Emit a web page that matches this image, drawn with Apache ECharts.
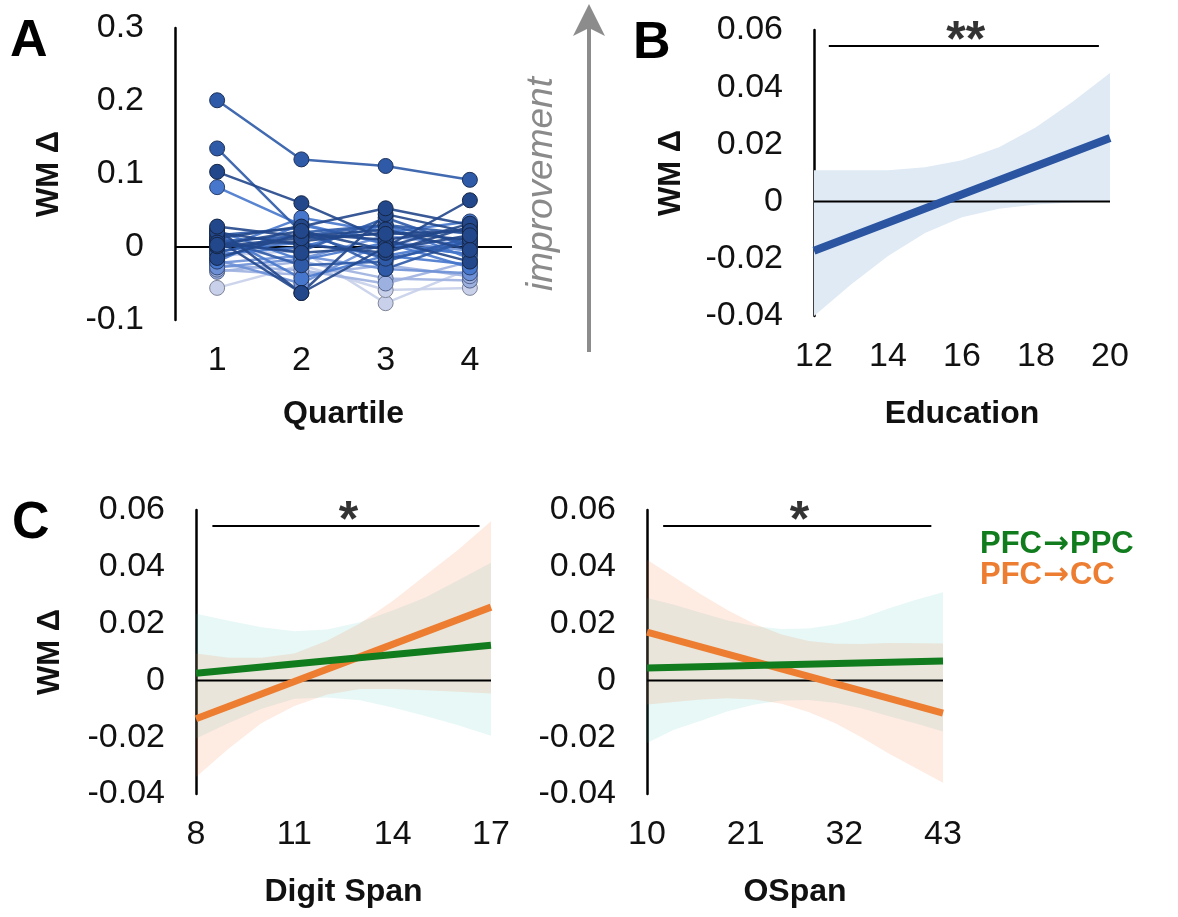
<!DOCTYPE html>
<html><head><meta charset="utf-8">
<script src="https://cdn.jsdelivr.net/npm/echarts@6/dist/echarts.min.js"></script>
<style>html,body{margin:0;padding:0;background:#fff}#c{width:1178px;height:917px}</style>
</head><body><div id="c"></div>
<script>
// ---------- Panel A: WM change per quartile, one line per subject ----------
const quartileX = [1, 2, 3, 4];
const quartileLabels = ['1', '2', '3', '4'];
const subjectValues = [
  [0.201, 0.120, 0.111, 0.092],
  [0.135, 0.020, 0.030, 0.005],
  [0.103, 0.060, 0.010, 0.025],
  [0.082, 0.030, 0.005, -0.010],
  [0.025, -0.063, 0.045, 0.020],
  [0.010, -0.063, 0.000, 0.064],
  [0.012, 0.028, 0.053, 0.030],
  [0.018, -0.043, -0.012, 0.008],
  [-0.012, -0.005, -0.077, -0.030],
  [-0.056, -0.025, -0.059, -0.056],
  [-0.034, -0.020, -0.043, -0.046],
  [-0.022, -0.012, -0.030, -0.036],
  [0.008, 0.015, 0.030, 0.018],
  [0.000, 0.008, 0.020, 0.010],
  [0.020, 0.003, -0.008, 0.028],
  [-0.015, 0.018, 0.010, -0.020],
  [0.004, -0.006, 0.040, 0.000],
  [-0.020, 0.032, 0.004, -0.010],
  [0.012, -0.025, -0.020, 0.014],
  [-0.005, 0.006, -0.012, -0.024],
  [0.028, 0.014, 0.024, -0.004],
  [-0.028, -0.016, 0.015, 0.002],
  [0.006, -0.008, 0.000, 0.032],
  [-0.010, 0.000, 0.030, -0.016],
  [-0.031, -0.038, -0.025, -0.040],
  [0.016, 0.026, -0.030, 0.010],
  [-0.018, -0.050, 0.008, -0.005],
  [0.001, 0.012, 0.018, 0.022],
  [-0.008, 0.018, -0.016, 0.006],
  [0.022, -0.018, 0.006, -0.028],
  [-0.025, -0.032, -0.050, -0.020],
  [0.003, 0.022, -0.004, 0.016],
  [-0.004, 0.040, 0.020, 0.035]
];
const subjectShade = [4,4,5,3,5,5,5,3,0,0,1,2,4,5,5,5,4,3,4,3,5,2,5,3,1,4,2,5,4,3,1,5,3];

// ---------- Panel B: Education ----------
const eduX = [12, 13, 14, 15, 16, 17, 18, 19, 20];
const eduUpper = [0.011, 0.011, 0.011, 0.012, 0.0145, 0.019, 0.026, 0.035, 0.045];
const eduLower = [-0.040, -0.029, -0.019, -0.011, -0.0055, -0.0025, -0.001, -0.0003, 0.0];
const eduFitX = [12, 20];
const eduFitY = [-0.0172, 0.0222];

// ---------- Panel C (left): Digit Span ----------
const dsX = [8, 9, 10, 11, 12, 13, 14, 15, 16, 17];
const dsPpcUpper = [0.0235, 0.021, 0.0187, 0.0173, 0.0179, 0.0205, 0.0246, 0.0292, 0.0353, 0.0414];
const dsPpcLower = [-0.0205, -0.015, -0.0100, -0.0065, -0.0060, -0.0070, -0.0095, -0.0125, -0.0158, -0.0195];
const dsCcUpper  = [0.0095, 0.0080, 0.0080, 0.0095, 0.0140, 0.0200, 0.0280, 0.0370, 0.0460, 0.0560];
const dsCcLower  = [-0.0340, -0.0240, -0.0150, -0.0090, -0.0050, -0.0030, -0.0030, -0.0035, -0.0040, -0.0046];
const dsFitX = [8, 17];
const dsPpcFit = [0.0025, 0.0124];
const dsCcFit = [-0.0135, 0.0258];

// ---------- Panel C (right): OSpan ----------
const osX = [10, 13, 16, 19, 22, 25, 28, 31, 34, 37, 40, 43];
const osPpcUpper = [0.029, 0.0266, 0.0238, 0.0211, 0.0191, 0.0181, 0.0183, 0.0197, 0.0221, 0.0254, 0.0284, 0.031];
const osPpcLower = [-0.022, -0.0174, -0.0142, -0.0109, -0.0085, -0.0071, -0.0069, -0.0079, -0.0099, -0.0126, -0.0152, -0.018];
const osCcUpper  = [0.0425, 0.0364, 0.0303, 0.0247, 0.0199, 0.0162, 0.0139, 0.0129, 0.0128, 0.0132, 0.0131, 0.013];
const osCcLower  = [-0.0085, -0.0076, -0.0067, -0.0063, -0.0067, -0.0082, -0.0111, -0.0151, -0.0202, -0.0258, -0.0309, -0.036];
const osFitX = [10, 43];
const osPpcFit = [0.0044, 0.0068];
const osCcFit = [0.0170, -0.0115];

// ---------- Significance annotations: [x0, x1, y, starX, text] ----------
const sigB = [12.4, 19.7, 0.0544, 16.1, '**'];
const sigDS = [8.5, 16.65, 0.0544, 12.65, '*'];
const sigOS = [11.8, 41.7, 0.0544, 27.0, '*'];

const seriesNames = ['PFC→PPC', 'PFC→CC'];

// ---------- styling ----------
const FONT = '"Liberation Sans", Arial, sans-serif';
const TXT = '#111';
const GREEN = '#107c1e';
const ORANGE = '#ed7d31';
const GREEN_BAND = 'rgba(40,190,170,0.11)';
const ORANGE_BAND = 'rgba(245,110,50,0.14)';
const BLUE_BAND = '#dfeaf5';
const shadeFill = ['#c8d0ea', '#9db1e0', '#6d90d6', '#4677cc', '#2e5aa8', '#22478b'];
const shadeBorder = ['#80869a', '#55648c', '#374d7c', '#283e6c', '#1d325c', '#152646'];

const TICK_FS = 34;

function yAxisCfg(grid, min, max, interval, name, gap) {
  return {
    type: 'value', gridIndex: grid, min: min, max: max, interval: interval,
    name: name, nameLocation: 'middle', nameGap: gap,
    nameTextStyle: { fontFamily: FONT, fontSize: 31, fontWeight: 'bold', color: TXT },
    axisLine: { show: true, onZero: false, lineStyle: { color: '#000', width: 2.5 } },
    axisTick: { show: false }, splitLine: { show: false },
    axisLabel: { fontFamily: FONT, fontSize: TICK_FS, color: TXT, margin: 31 }
  };
}
function xAxisCfg(grid, min, max, labels, name, gap) {
  return {
    type: 'value', gridIndex: grid, min: min, max: max,
    name: name, nameLocation: 'middle', nameGap: gap,
    nameTextStyle: { fontFamily: FONT, fontSize: 32, fontWeight: 'bold', color: TXT },
    axisLine: { show: false }, axisTick: { show: false }, splitLine: { show: false },
    axisLabel: { fontFamily: FONT, fontSize: TICK_FS, color: TXT, margin: 24, customValues: labels,
      showMinLabel: true, showMaxLabel: true }
  };
}
function band(grid, xs, up, lo, color, z) {
  return {
    type: 'custom', xAxisIndex: grid, yAxisIndex: grid, z: z, silent: true,
    data: [[xs[0], up[0]]],
    renderItem: function (params, api) {
      const pts = [];
      for (let i = 0; i < xs.length; i++) pts.push(api.coord([xs[i], up[i]]));
      for (let i = xs.length - 1; i >= 0; i--) pts.push(api.coord([xs[i], lo[i]]));
      return { type: 'polygon', shape: { points: pts }, style: { fill: color } };
    }
  };
}
function fitLine(grid, xs, ys, color, width, name, z) {
  return {
    type: 'line', name: name, xAxisIndex: grid, yAxisIndex: grid, z: z, silent: true,
    data: xs.map((x, i) => [x, ys[i]]), symbol: 'none',
    lineStyle: { color: color, width: width, cap: 'butt' }, itemStyle: { color: color }
  };
}
function zeroLine(grid, x0, x1, z) {
  return {
    type: 'line', xAxisIndex: grid, yAxisIndex: grid, z: z, silent: true,
    data: [[x0, 0], [x1, 0]], symbol: 'none',
    lineStyle: { color: '#000', width: 2 }
  };
}
function sig(grid, s) {
  return [
    { type: 'line', xAxisIndex: grid, yAxisIndex: grid, z: 5, silent: true,
      data: [[s[0], s[2]], [s[1], s[2]]], symbol: 'none', lineStyle: { color: '#000', width: 2 } },
    { type: 'scatter', xAxisIndex: grid, yAxisIndex: grid, z: 5, silent: true,
      data: [[s[3], s[2]]], symbolSize: 0,
      label: { show: true, position: 'inside', formatter: s[4], offset: [0, -4],
        fontFamily: FONT, fontSize: 50, fontWeight: 'bold', color: '#000' } }
  ];
}

const series = [];
// Panel A
series.push(zeroLine(0, 0.5, 4.5, 1));
const order = subjectValues.map((v, i) => i).sort((a, b) => subjectShade[a] - subjectShade[b]);
order.forEach(function (i) {
  const s = subjectShade[i];
  series.push({
    type: 'line', xAxisIndex: 0, yAxisIndex: 0, z: 2, silent: true,
    data: subjectValues[i].map((v, k) => [quartileX[k], v]),
    symbol: 'circle', symbolSize: 15, showSymbol: true,
    itemStyle: { color: shadeFill[s], borderColor: shadeBorder[s], borderWidth: 1 },
    lineStyle: { color: shadeFill[s], width: 2.5, opacity: 0.9 }
  });
});
// Panel B
series.push(band(1, eduX, eduUpper, eduLower, BLUE_BAND, 1));
series.push(zeroLine(1, 12, 20, 3));
series.push(fitLine(1, eduFitX, eduFitY, '#2b54a1', 8, 'Education fit', 4));
series.push(...sig(1, sigB));
// Panel C left
series.push(band(2, dsX, dsPpcUpper, dsPpcLower, GREEN_BAND, 1));
series.push(band(2, dsX, dsCcUpper, dsCcLower, ORANGE_BAND, 2));
series.push(zeroLine(2, 8, 17, 3));
series.push(fitLine(2, dsFitX, dsCcFit, ORANGE, 7, seriesNames[1], 4));
series.push(fitLine(2, dsFitX, dsPpcFit, GREEN, 7, seriesNames[0], 4));
series.push(...sig(2, sigDS));
// Panel C right
series.push(band(3, osX, osPpcUpper, osPpcLower, GREEN_BAND, 1));
series.push(band(3, osX, osCcUpper, osCcLower, ORANGE_BAND, 2));
series.push(zeroLine(3, 10, 43, 3));
series.push(fitLine(3, osFitX, osCcFit, ORANGE, 7, seriesNames[1], 4));
series.push(fitLine(3, osFitX, osPpcFit, GREEN, 7, seriesNames[0], 4));
series.push(...sig(3, sigOS));

function legendRich(color) {
  return {
    t: { fontFamily: FONT, fontSize: 31, fontWeight: 'bold', color: color },
    a: { fontFamily: '"DejaVu Sans", sans-serif', fontSize: 31, fontWeight: 'bold', color: color, padding: [0, 1, 0, 1] }
  };
}

const option = {
  animation: false,
  backgroundColor: '#fff',
  grid: [
    { left: 175, top: 28, width: 337, height: 292 },
    { left: 814, top: 30, width: 296, height: 286 },
    { left: 196, top: 510, width: 295, height: 284 },
    { left: 647, top: 510, width: 296, height: 284 }
  ],
  xAxis: [
    xAxisCfg(0, 0.5, 4.5, quartileX, 'Quartile', 78),
    xAxisCfg(1, 12, 20, [12, 14, 16, 18, 20], 'Education', 82),
    xAxisCfg(2, 8, 17, [8, 11, 14, 17], 'Digit Span', 82),
    xAxisCfg(3, 10, 43, [10, 21, 32, 43], 'OSpan', 82)
  ],
  yAxis: [
    yAxisCfg(0, -0.1, 0.3, 0.1, 'WM Δ', 110),
    yAxisCfg(1, -0.04, 0.06, 0.02, 'WM Δ', 127),
    yAxisCfg(2, -0.04, 0.06, 0.02, 'WM Δ', 130),
    yAxisCfg(3, -0.04, 0.06, 0.02, '', 20)
  ],
  legend: {
    orient: 'vertical', left: 970, top: 524, itemGap: 0, itemWidth: 0, itemHeight: 0,
    icon: 'none', selectedMode: false,
    formatter: function (name) {
      const parts = name.split('→');
      return '{t|' + parts[0] + '}{a|→}{t|' + parts[1] + '}';
    },
    textStyle: { fontFamily: FONT, fontSize: 31, fontWeight: 'bold' },
    data: [
      { name: seriesNames[0], textStyle: { color: GREEN, rich: legendRich(GREEN) } },
      { name: seriesNames[1], textStyle: { color: ORANGE, rich: legendRich(ORANGE) } }
    ]
  },
  graphic: [
    { type: 'text', left: 10, top: 16, style: { text: 'A', font: 'bold 52px ' + FONT, fill: '#000' } },
    { type: 'text', left: 633, top: 18, style: { text: 'B', font: 'bold 52px ' + FONT, fill: '#000' } },
    { type: 'text', left: 12, top: 498, style: { text: 'C', font: 'bold 52px ' + FONT, fill: '#000' } },
    { type: 'text', x: 542, y: 184, rotation: Math.PI / 2,
      style: { text: 'improvement', font: 'italic 37px ' + FONT, fill: '#8a8a8a', align: 'center', verticalAlign: 'middle' } },
    { type: 'line', shape: { x1: 589, y1: 352, x2: 589, y2: 22 }, style: { stroke: '#8c8c8c', lineWidth: 4 } },
    { type: 'polygon', shape: { points: [[589, 4], [605, 36], [589, 28], [573, 36]] }, style: { fill: '#8c8c8c' } }
  ],
  series: series
};
const chart = echarts.init(document.getElementById('c'), null, { renderer: 'canvas' });
chart.setOption(option);
</script></body></html>
